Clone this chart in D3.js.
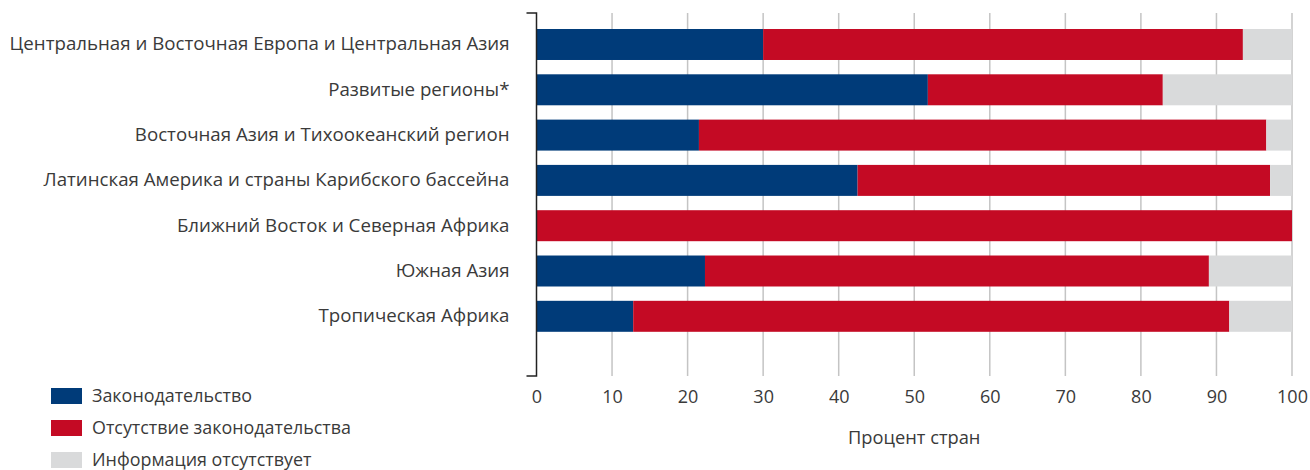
<!DOCTYPE html>
<html>
<head>
<meta charset="utf-8">
<script src="https://cdn.jsdelivr.net/npm/d3@7"></script>
<style>
  body { margin: 0; background: #fff; }
  text { font-family: "Open Sans", "Noto Sans", sans-serif; fill: #3a3a3a; }
</style>
</head>
<body>
<svg class="chart"></svg>
<script>
var regions = [
  "Центральная и Восточная Европа и Центральная Азия",
  "Развитые регионы*",
  "Восточная Азия и Тихоокеанский регион",
  "Латинская Америка и страны Карибского бассейна",
  "Ближний Восток и Северная Африка",
  "Южная Азия",
  "Тропическая Африка"
];
var legislation   = [30.0, 51.8, 21.5, 42.5, 0, 22.3, 12.8];
var noLegislation = [63.5, 31.1, 75.1, 54.6, 100, 66.7, 78.9];
var noInfo        = [6.5, 17.1, 3.4, 2.9, 0, 11.0, 8.3];
var seriesNames = ["Законодательство", "Отсутствие законодательства", "Информация отсутствует"];
var xTicks = [0, 10, 20, 30, 40, 50, 60, 70, 80, 90, 100];
var xTitle = "Процент стран";

var screen = { width: 1310, height: 470 };
var margins = { left: 536.5, right: 18, top: 13, bottom: 94 };

var colors = d3.scaleOrdinal()
               .domain(seriesNames)
               .range(["#003b79", "#c40a24", "#d9dadb"]);

var svg = d3.select(".chart")
            .attr("width", screen.width)
            .attr("height", screen.height);

var xScale = d3.scaleLinear()
               .domain([0, 100])
               .range([margins.left, screen.width - margins.right]);

var yScale = d3.scaleBand()
               .domain(regions)
               .range([29, 331.8])
               .paddingInner(0.316)
               .paddingOuter(0);

var bottomY = screen.height - margins.bottom;

// gridlines
svg.append("g")
   .classed("grid", true)
   .selectAll("line")
   .data(xTicks.slice(1))
   .enter()
   .append("line")
   .attr("x1", function(d) {return xScale(d);})
   .attr("x2", function(d) {return xScale(d);})
   .attr("y1", margins.top)
   .attr("y2", bottomY)
   .attr("stroke", "#c4c4c4")
   .attr("stroke-width", 1.5);

// stacked data
var rows = regions.map(function(r, i) {
  return {region: r, "Законодательство": legislation[i],
          "Отсутствие законодательства": noLegislation[i],
          "Информация отсутствует": noInfo[i]};
});
var stack = d3.stack().keys(seriesNames)(rows);

svg.append("g")
   .classed("bars", true)
   .selectAll("g")
   .data(stack)
   .enter()
   .append("g")
   .attr("fill", function(d) {return colors(d.key);})
   .selectAll("rect")
   .data(function(d) {return d;})
   .enter()
   .append("rect")
   .attr("x", function(d) {return xScale(d[0]);})
   .attr("y", function(d) {return yScale(d.data.region);})
   .attr("width", function(d) {return Math.max(0, xScale(Math.min(d[1], 100)) - xScale(d[0]));})
   .attr("height", yScale.bandwidth());

// y axis labels
var yAxis = d3.axisLeft(yScale).tickSize(0).tickPadding(27);
var yg = svg.append("g")
   .classed("yAxis", true)
   .attr("transform", "translate(" + margins.left + ",0)")
   .call(yAxis);
yg.select(".domain").remove();
yg.selectAll("text")
  .style("font-size", "18.7px")
  .attr("fill", "#3a3a3a");

// axis line with end caps
svg.append("path")
   .attr("d", "M" + (margins.left - 10) + "," + margins.top + "H" + margins.left +
              "V" + bottomY + "H" + (margins.left - 10))
   .attr("fill", "none")
   .attr("stroke", "#222")
   .attr("stroke-width", 1.5);

// x axis labels
var xAxis = d3.axisBottom(xScale).tickValues(xTicks).tickSize(0).tickPadding(14);
var xg = svg.append("g")
   .classed("xAxis", true)
   .attr("transform", "translate(0," + bottomY + ")")
   .call(xAxis);
xg.select(".domain").remove();
xg.selectAll("text")
  .style("font-size", "18px")
  .attr("fill", "#3a3a3a");

svg.append("text")
   .attr("x", xScale(50))
   .attr("y", 444)
   .attr("text-anchor", "middle")
   .style("font-size", "18.3px")
   .text(xTitle);

// legend
var legend = svg.append("g")
   .classed("legend", true)
   .selectAll("g")
   .data(seriesNames)
   .enter()
   .append("g")
   .attr("transform", function(d, i) {return "translate(51," + (388 + i * 32) + ")";});

legend.append("rect")
      .attr("width", 31)
      .attr("height", 16)
      .attr("fill", function(d) {return colors(d);});

legend.append("text")
      .attr("x", 41)
      .attr("y", 8)
      .attr("dy", "0.35em")
      .style("font-size", "17.9px")
      .text(function(d) {return d;});
</script>
</body>
</html>
